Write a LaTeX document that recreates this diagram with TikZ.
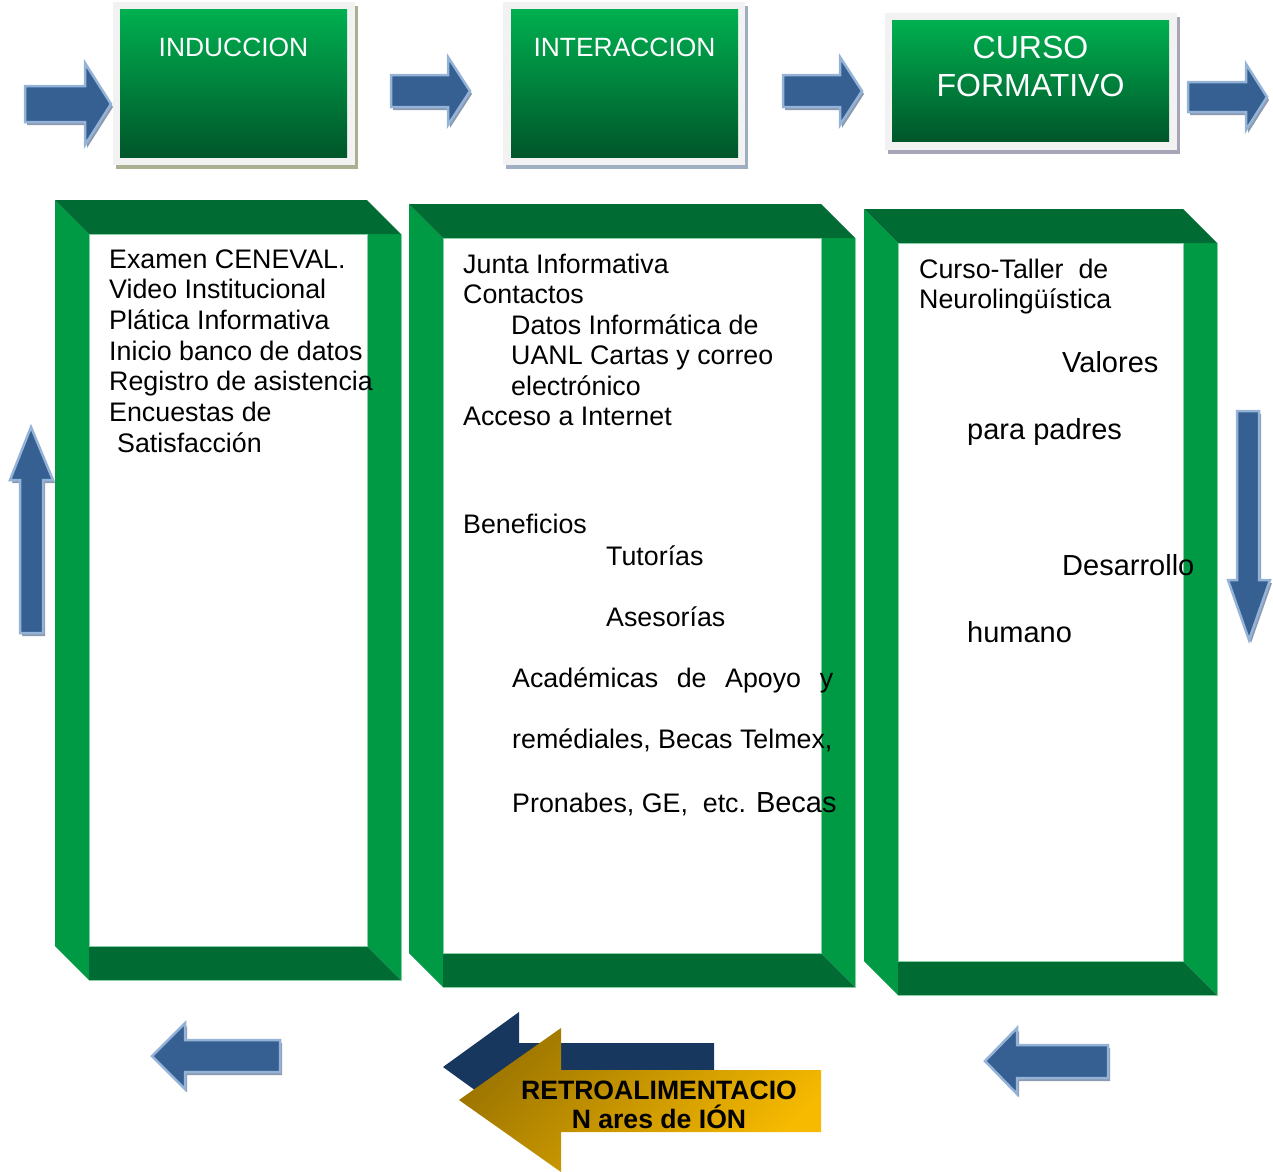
\documentclass[tikz,border=0pt]{standalone}
\usepackage{fontspec}
\setmainfont{Liberation Sans}
\usetikzlibrary{shadows}

\definecolor{arrowblue}{HTML}{366092}
\definecolor{arrowedge}{HTML}{95B3D7}
\definecolor{arrowshade}{HTML}{8C9AAF}
\definecolor{boxtop}{HTML}{00B050}
\definecolor{boxbottom}{HTML}{00562A}
\definecolor{framegray}{HTML}{F2F2F2}
\definecolor{shadeolive}{HTML}{A9B192}
\definecolor{shadeblue}{HTML}{9DAFC0}
\definecolor{shadelilac}{HTML}{A9A5B9}
\definecolor{sidegreen}{HTML}{009A44}
\definecolor{facegreen}{HTML}{006B32}
\definecolor{edgegreen}{HTML}{86CFA4}
\definecolor{navy}{HTML}{17375E}
\definecolor{golddark}{HTML}{9E7600}
\definecolor{goldlight}{HTML}{F7BA00}

\tikzset{
  barrow/.style={fill=arrowblue, draw=arrowedge, line width=2.5pt, line join=miter,
    drop shadow={shadow xshift=2pt, shadow yshift=-3pt, fill=arrowshade, opacity=1}},
  topframe/.style={fill=framegray,
    drop shadow={shadow xshift=3pt, shadow yshift=-4pt, fill=#1, opacity=1}},
  boxtitle/.style={anchor=base, inner sep=0pt, text=white, align=center},
  txt/.style={anchor=base west, inner sep=0pt, font=\fontsize{26.8}{31}\selectfont},
  bigtxt/.style={txt, font=\fontsize{29}{34}\selectfont},
  retro/.style={anchor=base, inner sep=0pt, font=\fontsize{26.6}{30}\selectfont\bfseries}
}

\begin{document}
\begin{tikzpicture}[x=1pt, y=-1pt]
\useasboundingbox (0,0) rectangle (1273,1171);

% top boxes
\fill[topframe=shadeolive] (113,2) rectangle (355,165);
\shade[top color=boxtop, bottom color=boxbottom] (120,9) rectangle (347,157);
\fill[topframe=shadeblue] (503,2) rectangle (745,165);
\shade[top color=boxtop, bottom color=boxbottom] (511,9) rectangle (738,157);
\fill[topframe=shadelilac] (885,13) rectangle (1177,150);
\shade[top color=boxtop, bottom color=boxbottom] (892,20) rectangle (1169,141);

\node[boxtitle, font=\fontsize{26.4}{30}\selectfont] (induccion) at (233.5,56) {INDUCCION};
\node[boxtitle, font=\fontsize{26.4}{30}\selectfont] (interaccion) at (624.5,56) {INTERACCION};
\node[boxtitle, font=\fontsize{32}{38}\selectfont] (curso) at (1030.5,58) {CURSO};
\node[boxtitle, font=\fontsize{32}{38}\selectfont] (formativo) at (1030.5,96) {FORMATIVO};

% bevelled frames
\foreach \xa/\ya/\xb/\yb in {55/200/401/980, 409/204/855/987, 864/209/1217/995} {
  \fill[sidegreen] (\xa,\ya) -- (\xa+34,\ya+34) -- (\xa+34,\yb) -- (\xa,\yb-34) -- cycle;
  \fill[sidegreen] (\xb-34,\ya+34) -- (\xb,\ya+34) -- (\xb,\yb) -- (\xb-34,\yb-34) -- cycle;
  \fill[facegreen] (\xa,\ya) -- (\xb-34,\ya) -- (\xb,\ya+34) -- (\xa+34,\ya+34) -- cycle;
  \fill[facegreen] (\xa+34,\yb-34) -- (\xb-34,\yb-34) -- (\xb,\yb) -- (\xa+34,\yb) -- cycle;
  \draw[edgegreen, line width=0.8pt] (\xa+34,\ya+34) rectangle (\xb-34,\yb-34);
  \draw[edgegreen, line width=0.8pt] (\xb,\ya+34) -- (\xb,\yb) -- (\xa+34,\yb);
}

% first column
\node[txt] (ind1) at (109,268) {Examen CENEVAL.};
\node[txt] (ind2) at (109,298.7) {Video Institucional};
\node[txt] (ind3) at (109,329.4) {Plática Informativa};
\node[txt] (ind4) at (109,360.1) {Inicio banco de datos};
\node[txt] (ind5) at (109,390.8) {Registro de asistencia};
\node[txt] (ind6) at (109,421.5) {Encuestas de};
\node[txt] (ind7) at (117,452.2) {Satisfacción};

% second column
\node[txt] (int1) at (463,273) {Junta Informativa};
\node[txt] (int2) at (463,303.5) {Contactos};
\node[txt] (int3) at (511,334) {Datos Informática de};
\node[txt] (int4) at (511,364.5) {UANL Cartas y correo};
\node[txt] (int5) at (511,395) {electrónico};
\node[txt] (int6) at (463,425.5) {Acceso a Internet};
\node[txt] (int7) at (463,533) {Beneficios};
\node[txt] (int8) at (606,565) {Tutorías};
\node[txt] (int9) at (606,626) {Asesorías};
\node[txt] (int10) at (512,687) {\hbox to 321pt{Académicas\hfill de\hfill Apoyo\hfill y}};
\node[txt] (int11) at (512,748) {remédiales, Becas Telmex,};
\node[txt] (int12) at (512,812) {Pronabes, GE,\ \ etc. {\fontsize{29}{34}\selectfont Becas}};

% third column
\node[txt] (cur1) at (919,278) {Curso-Taller\ \ de};
\node[txt] (cur2) at (919,308) {Neurolingüística};
\node[bigtxt] (cur3) at (1062,372) {Valores};
\node[bigtxt] (cur4) at (967,439) {para padres};
\node[bigtxt] (cur5) at (1062,575) {Desarrollo};
\node[bigtxt] (cur6) at (967,642) {humano};

% blue arrows
\draw[barrow] (25,86) -- (85,86) -- (85,63) -- (111,104) -- (85,145) -- (85,122) -- (25,122) -- cycle;
\draw[barrow] (391,75) -- (448,75) -- (448,57) -- (470,91) -- (448,125) -- (448,107) -- (391,107) -- cycle;
\draw[barrow] (783,75) -- (840,75) -- (840,57) -- (862,91) -- (840,125) -- (840,107) -- (783,107) -- cycle;
\draw[barrow] (1188,82) -- (1246,82) -- (1246,64) -- (1267,97) -- (1246,130) -- (1246,112) -- (1188,112) -- cycle;
\draw[barrow] (20,633) -- (20,480) -- (10,480) -- (31,427) -- (53,480) -- (43,480) -- (43,633) -- cycle;
\draw[barrow] (1237,411) -- (1259,411) -- (1259,580) -- (1270,580) -- (1249,640) -- (1228,580) -- (1237,580) -- cycle;
\draw[barrow] (280,1040) -- (185,1040) -- (185,1023) -- (152,1056) -- (185,1089) -- (185,1072) -- (280,1072) -- cycle;
\draw[barrow] (1108,1045) -- (1017,1045) -- (1017,1028) -- (985,1061) -- (1017,1094) -- (1017,1078) -- (1108,1078) -- cycle;

% feedback arrows
\fill[navy] (714,1043) -- (519,1043) -- (519,1012) -- (443,1067) -- (519,1122) -- (519,1091) -- (714,1091) -- cycle;
\shade[top color=golddark, bottom color=goldlight, shading angle=45]
  (821,1070) -- (561,1070) -- (561,1028) -- (459,1100) -- (561,1172) -- (561,1132) -- (821,1132) -- cycle;
\node[retro] (retro1) at (659,1099) {RETROALIMENTACIO};
\node[retro] (retro2) at (659,1128) {N ares de IÓN};
\end{tikzpicture}
\end{document}
